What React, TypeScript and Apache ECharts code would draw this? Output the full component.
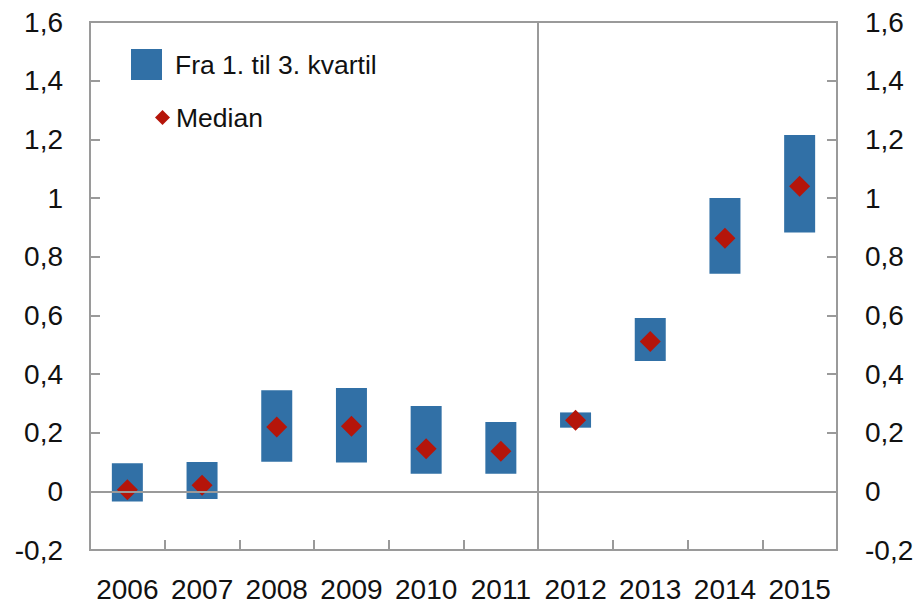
import React, { useEffect, useRef } from "react";
import * as echarts from "echarts";

const years = ["2006", "2007", "2008", "2009", "2010", "2011", "2012", "2013", "2014", "2015"];
const q1 = [-0.035, -0.026, 0.101, 0.098, 0.06, 0.06, 0.217, 0.444, 0.742, 0.882];
const q3 = [0.096, 0.1, 0.345, 0.352, 0.291, 0.236, 0.269, 0.591, 1.0, 1.215];
const median = [0.005, 0.021, 0.219, 0.222, 0.145, 0.137, 0.242, 0.511, 0.863, 1.04];
const yMin = -0.2;
const yMax = 1.6;
const yStep = 0.2;
const splitAfterIndex = 6; // boundary between 2011 and 2012

const FONT = "Liberation Sans";
const GREY = "#9a9a9a";
const BLUE = "#3170a6";
const RED = "#b5150a";

function fmt(v: number) {
  const r = Math.round(v * 10) / 10;
  return String(r).replace(".", ",");
}

export default function App() {
  const ref = useRef<HTMLDivElement>(null);
  useEffect(() => {
    if (!ref.current) return;
    const chart = echarts.init(ref.current, null, { renderer: "svg" });
    const yAxisBase = {
      type: "value",
      min: yMin,
      max: yMax,
      interval: yStep,
      splitLine: { show: false },
      axisLine: { show: true, lineStyle: { color: GREY, width: 2 } },
      axisTick: { show: true, inside: true, length: 10, lineStyle: { color: GREY, width: 2 } },
      axisLabel: { formatter: fmt, fontFamily: FONT, fontSize: 28, color: "#111" },
    };
    chart.setOption({
      animation: false,
      grid: {
        left: 90,
        right: 82,
        top: 22,
        bottom: 53,
        show: true,
        borderColor: GREY,
        borderWidth: 2,
        backgroundColor: "transparent",
      },
      legend: [
        {
          data: [{ name: "Fra 1. til 3. kvartil", icon: "rect" }],
          left: 126,
          top: 44,
          itemWidth: 31,
          itemHeight: 31,
          orient: "vertical",
          textStyle: { fontFamily: FONT, fontSize: 26.5, color: "#111", padding: [0, 0, 0, 8] },
          selectedMode: false,
        },
        {
          data: ["Median"],
          left: 150,
          top: 99,
          itemWidth: 15,
          itemHeight: 15,
          orient: "vertical",
          textStyle: { fontFamily: FONT, fontSize: 26.5, color: "#111", padding: [0, 0, 0, 1] },
          selectedMode: false,
        },
      ],
      xAxis: [
        {
          type: "category",
          data: years,
          axisLine: { show: true, lineStyle: { color: GREY, width: 2 }, onZero: false },
          axisTick: { show: true, inside: true, length: 10, lineStyle: { color: GREY, width: 2 } },
          axisLabel: { fontFamily: FONT, fontSize: 28, color: "#111", margin: 25, interval: 0 },
          splitLine: { show: false },
        },
        { type: "value", min: 0, max: years.length, show: false },
      ],
      yAxis: [
        { ...yAxisBase, position: "left", axisLabel: { ...yAxisBase.axisLabel, margin: 27 } },
        { ...yAxisBase, position: "right", axisLabel: { ...yAxisBase.axisLabel, margin: 28 } },
      ],
      series: [
        {
          name: "refs",
          type: "line",
          xAxisIndex: 1,
          yAxisIndex: 0,
          data: [],
          z: 1,
          silent: true,
          markLine: {
            silent: true,
            symbol: ["none", "none"],
            label: { show: false },
            lineStyle: { color: GREY, width: 2, type: "solid" },
            data: [{ xAxis: splitAfterIndex }, { yAxis: 0 }],
          },
        },
        {
          name: "base",
          type: "bar",
          stack: "iqr",
          stackStrategy: "all",
          data: q1,
          barWidth: 31,
          itemStyle: { color: "transparent" },
          silent: true,
          z: 2,
        },
        {
          name: "Fra 1. til 3. kvartil",
          type: "bar",
          stack: "iqr",
          stackStrategy: "all",
          data: q3.map((v, i) => Math.round((v - q1[i]) * 1000) / 1000),
          barWidth: 31,
          itemStyle: { color: BLUE },
          z: 2,
        },
        {
          name: "Median",
          type: "scatter",
          data: median,
          symbol: "diamond",
          symbolSize: 21,
          itemStyle: { color: RED, opacity: 1 },
          z: 3,
        },
      ],
    });
    return () => chart.dispose();
  }, []);
  return <div ref={ref} style={{ width: 919, height: 603, position: "absolute", left: 0, top: 0 }} />;
}
